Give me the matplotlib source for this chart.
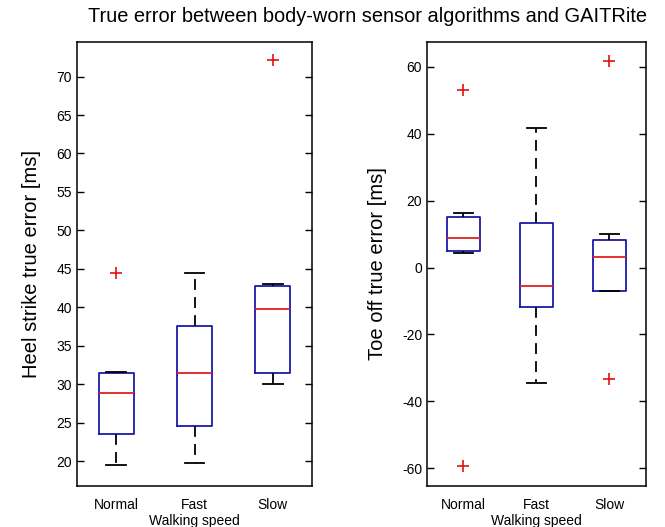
import numpy as np
import matplotlib.pyplot as plt

speeds = ["Normal", "Fast", "Slow"]

# heel strike true error [ms]: whisker low, q1, median, q3, whisker high, outliers
hs_whislo = [19.5, 19.8, 30.0]
hs_q1 = [23.5, 24.5, 31.4]
hs_med = [28.9, 31.4, 39.8]
hs_q3 = [31.4, 37.5, 42.8]
hs_whishi = [31.6, 44.5, 43.0]
hs_fliers = [[44.5], [], [72.1]]

# toe off true error [ms]
to_whislo = [4.2, -34.6, -7.1]
to_q1 = [4.9, -11.7, -7.1]
to_med = [8.8, -5.4, 3.1]
to_q3 = [15.0, 13.4, 8.2]
to_whishi = [16.3, 41.8, 10.0]
to_fliers = [[53.2, -59.2], [], [61.8, -33.3]]

plt.rcParams['font.family'] = ['Liberation Sans', 'DejaVu Sans']
plt.rcParams['axes.unicode_minus'] = False


def make_stats(lo, q1, med, q3, hi, fl):
    stats = []
    for i in range(len(speeds)):
        stats.append(dict(label=speeds[i], whislo=lo[i], q1=q1[i], med=med[i],
                          q3=q3[i], whishi=hi[i], fliers=fl[i]))
    return stats


def draw(ax, stats, ylim, yticks, ylabel):
    ax.bxp(stats, positions=[1, 2, 3], widths=0.45, capwidths=0.25,
           boxprops=dict(color='#1a1aa8', linewidth=1.3),
           medianprops=dict(color='#e02020', linewidth=1.3),
           whiskerprops=dict(color='black', linewidth=1.3, linestyle=(0, (6, 4))),
           capprops=dict(color='black', linewidth=1.3),
           flierprops=dict(marker='+', markeredgecolor='#e01010', markersize=8,
                           markeredgewidth=1.2, linestyle='none'))
    ax.set_xlim(0.5, 3.5)
    ax.set_ylim(*ylim)
    ax.set_yticks(yticks)
    ax.set_xticks([1, 2, 3])
    ax.set_xticklabels(speeds, fontsize=10)
    ax.tick_params(axis='x', length=0, pad=9)
    ax.tick_params(axis='y', direction='in', right=True, length=5, labelsize=10, width=1)
    for s in ax.spines.values():
        s.set_linewidth(1.1)
    ax.set_xlabel("Walking speed", fontsize=10, labelpad=1)
    ax.set_ylabel(ylabel, fontsize=14.5, labelpad=11)


fig = plt.figure(figsize=(6.65, 5.27), dpi=100)
ax1 = fig.add_axes([0.1158, 0.0778, 0.3534, 0.8425])
ax2 = fig.add_axes([0.6421, 0.0778, 0.3293, 0.8425])

draw(ax1, make_stats(hs_whislo, hs_q1, hs_med, hs_q3, hs_whishi, hs_fliers),
     (16.75, 74.5), np.arange(20, 71, 5), "Heel strike true error [ms]")
draw(ax2, make_stats(to_whislo, to_q1, to_med, to_q3, to_whishi, to_fliers),
     (-65.3, 67.4), np.arange(-60, 61, 20), "Toe off true error [ms]")

fig.text(367 / 665, 1 - 16 / 527, "True error between body-worn sensor algorithms and GAITRite",
         ha='center', va='center', fontsize=14.4)

plt.savefig("out.png", dpi=100)
